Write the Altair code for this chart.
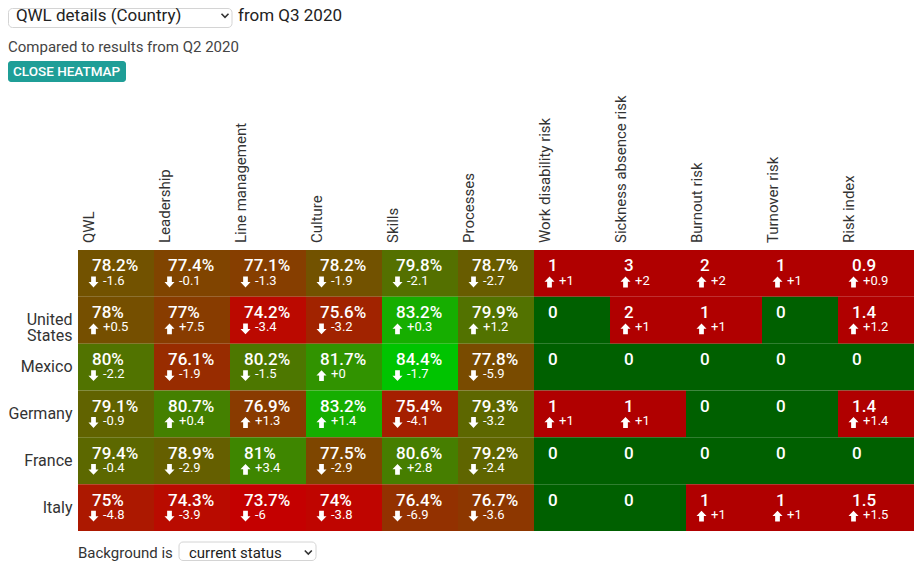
import altair as alt
import pandas as pd

# ---------------- data ----------------
countries = ["All", "United States", "Mexico", "Germany", "France", "Italy"]
row_labels = ["", "United\nStates", "Mexico", "Germany", "France", "Italy"]
qwl_metrics = ["QWL", "Leadership", "Line management", "Culture", "Skills", "Processes"]
risk_metrics = ["Work disability risk", "Sickness absence risk", "Burnout risk",
                "Turnover risk", "Risk index"]

qwl_values = [
    [78.2, 77.4, 77.1, 78.2, 79.8, 78.7],
    [78.0, 77.0, 74.2, 75.6, 83.2, 79.9],
    [80.0, 76.1, 80.2, 81.7, 84.4, 77.8],
    [79.1, 80.7, 76.9, 83.2, 75.4, 79.3],
    [79.4, 78.9, 81.0, 77.5, 80.6, 79.2],
    [75.0, 74.3, 73.7, 74.0, 76.4, 76.7],
]
qwl_deltas = [
    [-1.6, -0.1, -1.3, -1.9, -2.1, -2.7],
    [0.5, 7.5, -3.4, -3.2, 0.3, 1.2],
    [-2.2, -1.9, -1.5, 0.0, -1.7, -5.9],
    [-0.9, 0.4, 1.3, 1.4, -4.1, -3.2],
    [-0.4, -2.9, 3.4, -2.9, 2.8, -2.4],
    [-4.8, -3.9, -6.0, -3.8, -6.9, -3.6],
]
risk_values = [
    [1, 3, 2, 1, 0.9],
    [0, 2, 1, 0, 1.4],
    [0, 0, 0, 0, 0],
    [1, 1, 0, 0, 1.4],
    [0, 0, 0, 0, 0],
    [0, 0, 1, 1, 1.5],
]
risk_deltas = [
    [1, 2, 2, 1, 0.9],
    [0, 1, 1, 0, 1.2],
    [0, 0, 0, 0, 0],
    [1, 1, 0, 0, 1.4],
    [0, 0, 0, 0, 0],
    [0, 0, 1, 1, 1.5],
]

metrics = qwl_metrics + risk_metrics

records = []
for i, c in enumerate(countries):
    for j, m in enumerate(qwl_metrics):
        v, d = qwl_values[i][j], qwl_deltas[i][j]
        records.append(dict(country=c, metric=m, kind="qwl", value=v, delta=d,
                            label=f"{v:g}%", dlabel=f"{d:+g}", up=d >= 0, show=True))
    for j, m in enumerate(risk_metrics):
        v, d = risk_values[i][j], risk_deltas[i][j]
        records.append(dict(country=c, metric=m, kind="risk", value=v, delta=d,
                            label=f"{v:g}", dlabel=f"{d:+g}", up=d >= 0, show=d != 0))
df = pd.DataFrame(records)

FONT = "Roboto"
xs = alt.Scale(domain=metrics, paddingInner=0, paddingOuter=0)
ys = alt.Scale(domain=countries, paddingInner=0, paddingOuter=0)
X = alt.X("metric:N", scale=xs, axis=None)
Y = alt.Y("country:N", scale=ys, axis=None)

base = alt.Chart(df)

qwl_rect = base.transform_filter("datum.kind == 'qwl'").mark_rect().encode(
    x=X, y=Y,
    color=alt.Color("value:Q", legend=None,
                    scale=alt.Scale(domain=[73.7, 84.4], range=["#c40000", "#00c400"],
                                    interpolate="rgb", clamp=True)))
risk_rect = base.transform_filter("datum.kind == 'risk'").mark_rect().encode(
    x=X, y=Y,
    color=alt.condition("datum.value > 0", alt.value("#b00000"), alt.value("#006000")))

main_text = base.mark_text(align="left", baseline="alphabetic", dx=-24, dy=-2,
                           font=FONT, fontSize=17, fontWeight=500, color="white").encode(
    x=X, y=Y, text="label:N")
sub_text = base.transform_filter("datum.show").mark_text(
    align="left", baseline="alphabetic", dx=-13, dy=11.2,
    font=FONT, fontSize=13, color="white").encode(x=X, y=Y, text="dlabel:N")

UP = "M0,-0.92L0.85,-0.02L0.4,-0.02L0.4,0.92L-0.4,0.92L-0.4,-0.02L-0.85,-0.02Z"
DOWN = "M0,0.92L0.85,0.02L0.4,0.02L0.4,-0.92L-0.4,-0.92L-0.4,0.02L-0.85,0.02Z"
XA = alt.X("metric:N", scale=xs, axis=None, bandPosition=0.204)
YA = alt.Y("country:N", scale=ys, axis=None, bandPosition=0.683)
arrow_up = base.transform_filter("datum.show && datum.up").mark_point(
    shape=UP, filled=True, size=140, color="white", opacity=1, strokeWidth=0).encode(x=XA, y=YA)
arrow_down = base.transform_filter("datum.show && !datum.up").mark_point(
    shape=DOWN, filled=True, size=140, color="white", opacity=1, strokeWidth=0).encode(x=XA, y=YA)

headers = alt.Chart(pd.DataFrame({"metric": metrics})).mark_text(
    angle=270, align="left", baseline="middle", dy=-27, font=FONT, fontSize=15,
    color="#333").encode(x=X, y=alt.value(-7), text="metric:N")

rows = alt.Chart(pd.DataFrame({"country": countries, "label": row_labels})).mark_text(
    align="right", baseline="middle", font=FONT, fontSize=16, color="#333",
    lineBreak="\n", lineHeight=16).encode(x=alt.value(-5.5), y=Y, text="label:N")

# ---------------- page decorations (controls around the heatmap) ----------------
one = pd.DataFrame({"a": [0]})


def deco_rect(x1, y1, x2, y2, **kw):
    return alt.Chart(one).mark_rect(**kw).encode(
        x=alt.value(x1), x2=alt.value(x2), y=alt.value(y1), y2=alt.value(y2))


def deco_text(x, y, s, **kw):
    return alt.Chart(one).mark_text(align="left", baseline="alphabetic", font=FONT,
                                    text=s, **kw).encode(x=alt.value(x), y=alt.value(y))


CHEV = "M-1,-0.5L0,0.5L1,-0.5"


def chevron(x, y):
    return alt.Chart(one).mark_point(shape=CHEV, filled=False, size=49, color="#333",
                                     strokeWidth=1.6, opacity=1).encode(
        x=alt.value(x), y=alt.value(y))


decos = [
    deco_rect(-69.5, -241.5, 154, -222.5, fill="white", stroke="#d4d4d4", strokeWidth=1,
              cornerRadius=4),
    deco_text(-62, -229.5, "QWL details (Country)", fontSize=17, color="#222"),
    chevron(147, -234.5),
    deco_text(160, -229.5, "from Q3 2020", fontSize=17, color="#222"),
    deco_text(-70, -198.5, "Compared to results from Q2 2020", fontSize=15, color="#444"),
    deco_rect(-70, -189, 48, -168, fill="#1f9e97", cornerRadius=3),
    deco_text(-65, -174, "CLOSE HEATMAP", fontSize=13.5, fontWeight=500, color="white"),
    deco_text(0, 308, "Background is", fontSize=15, color="#333"),
    deco_rect(101, 292, 238, 310.5, fill="white", stroke="#d4d4d4", strokeWidth=1,
              cornerRadius=4),
    deco_text(111, 308, "current status", fontSize=15, color="#222"),
    chevron(230.3, 302.3),
]

chart = alt.layer(qwl_rect, risk_rect, main_text, sub_text, arrow_up, arrow_down,
                  headers, rows, *decos).properties(
    width=836, height=281, autosize="none",
    padding={"left": 70, "top": 242, "right": 1, "bottom": 30},
).configure_view(stroke=None)

chart.save("out.html", embed_options={"renderer": "svg", "actions": False})
